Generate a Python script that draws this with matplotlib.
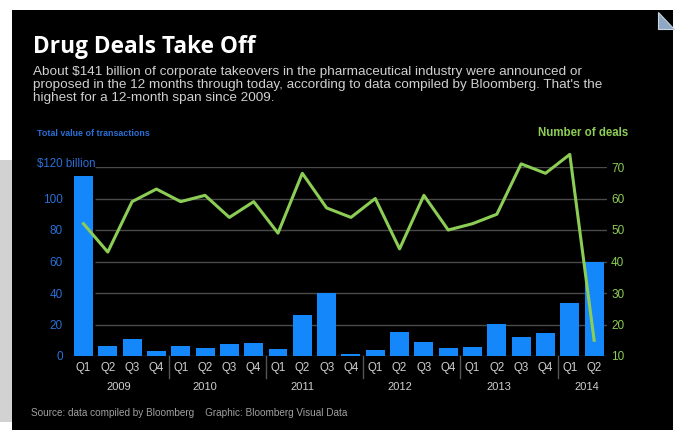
import matplotlib.pyplot as plt
from matplotlib.patches import Rectangle, Polygon

quarters = ['Q1', 'Q2', 'Q3', 'Q4'] * 5 + ['Q1', 'Q2']
years = ['2009', '2010', '2011', '2012', '2013', '2014']
value_bn = [114, 6.5, 10.6, 3.2, 6.5, 4.9, 7.6, 8.5, 4.2, 26.2, 40.2,
            1.3, 3.8, 15.4, 8.7, 4.9, 5.5, 20.1, 12.3, 14.8, 33.4, 60]
num_deals = [52, 43, 59, 63, 59, 61, 54, 59, 49, 68, 57,
             54, 60, 44, 61, 50, 52, 55, 71, 68, 74, 15]

W, H = 677, 430
BLUE = '#1487fb'
GREEN = '#8ccd55'
FONT = 'Liberation Sans'

fig = plt.figure(figsize=(W / 100, H / 100), dpi=100, facecolor='white')

# background panel, grey strip on the left, little corner icon
fig.patches.append(Rectangle((0, 8 / H), 12 / W, 262 / H, transform=fig.transFigure,
                             facecolor='#d2d2d2', edgecolor='none', zorder=-10))
fig.patches.append(Rectangle((12 / W, 0), 661 / W, 420 / H, transform=fig.transFigure,
                             facecolor='black', edgecolor='none', zorder=-10))
fig.patches.append(Polygon([(658 / W, 1 - 12 / H), (658 / W, 1 - 29 / H), (674 / W, 1 - 29 / H)],
                           closed=True, transform=fig.transFigure, zorder=-10,
                           facecolor='#8fa9c4', edgecolor='#c8d4e0', lw=0.8))

x = list(range(len(value_bn)))
ax = fig.add_axes([71.3 / W, (H - 356) / H, (607 - 71.3) / W, (356 - 167) / H])
ax.set_facecolor('none')
ax.bar(x, value_bn, width=0.78, color=BLUE, zorder=3)
ax.hlines([0, 20, 40, 60, 80, 100, 120], 0.46, 21.53, color='#4a4a4a', lw=1, zorder=1)
ax.set_xlim(-0.5, 21.53)
ax.set_ylim(0, 120)
for s in ax.spines.values():
    s.set_visible(False)
ax.set_yticks([0, 20, 40, 60, 80, 100])
ax.set_yticklabels(['0', '20', '40', '60', '80', '100'], color='#2a6fd6', fontsize=8.5, family=FONT)
ax.tick_params(axis='y', length=0, pad=6)
ax.set_xticks(x)
ax.set_xticklabels(quarters, color='#cfcfcf', fontsize=8.3, family=FONT)
ax.tick_params(axis='x', length=0, pad=4)
ax.text(-1.91, 122, '$120 billion', ha='left', va='center',
        color='#2a6fd6', fontsize=8.3, family=FONT)

# year separators and labels
for sx in [3.5, 7.5, 11.5, 15.5, 19.5]:
    ax.plot([sx, sx], [0, -14], color='#555555', lw=1, clip_on=False)
year_pos = [1.45, 5.0, 9.0, 13.0, 17.1, 20.7]
for yp, yl in zip(year_pos, years):
    ax.text(yp, -19.5, yl, ha='center', va='center', color='#cfcfcf', fontsize=8, family=FONT)

ax2 = ax.twinx()
ax2.plot(x, num_deals, color=GREEN, lw=2.2, zorder=4, clip_on=False)
ax2.set_ylim(10, 70)
for s in ax2.spines.values():
    s.set_visible(False)
ax2.set_yticks([10, 20, 30, 40, 50, 60, 70])
ax2.set_yticklabels(['10', '20', '30', '40', '50', '60', '70'], color=GREEN, fontsize=8.5, family=FONT)
ax2.tick_params(axis='y', length=0, pad=3)

fig.text(33 / W, 1 - 47 / H, 'Drug Deals Take Off', color='white', fontsize=16.3,
         fontweight='bold', family='Open Sans', va='center')
sub = ("About $141 billion of corporate takeovers in the pharmaceutical industry were announced or\n"
       "proposed in the 12 months through today, according to data compiled by Bloomberg. That's the\n"
       "highest for a 12-month span since 2009.")
fig.text(33 / W, 1 - 66 / H, sub, color='#d0d0d0', fontsize=9.7, family=FONT, va='top',
         linespacing=1.12)
fig.text(37 / W, 1 - 133 / H, 'Total value of transactions', color='#2a6fd6', fontsize=6.4,
         fontweight='bold', family=FONT, va='center')
fig.text(628 / W, 1 - 133 / H, 'Number of deals', color=GREEN, fontsize=8.3,
         fontweight='bold', family=FONT, va='center', ha='right')
fig.text(31 / W, 1 - 413 / H, 'Source: data compiled by Bloomberg    Graphic: Bloomberg Visual Data',
         color='#a0a0a0', fontsize=7.2, family=FONT, va='center')

fig.savefig('out.png', dpi=100, facecolor='white')
